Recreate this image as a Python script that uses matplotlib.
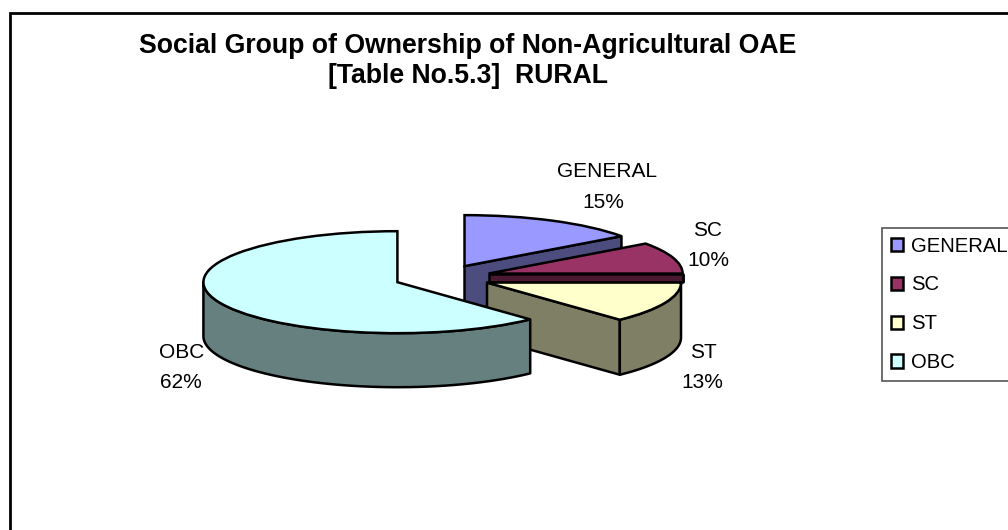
import numpy as np
import matplotlib
matplotlib.use("Agg")
import matplotlib.pyplot as plt
from matplotlib.patches import Patch, Rectangle

plt.rcParams['font.family'] = ['Liberation Sans', 'DejaVu Sans']

groups = ["GENERAL", "SC", "ST", "OBC"]
shares = [15, 10, 13, 62]
title_text = "Social Group of Ownership of Non-Agricultural OAE\n[Table No.5.3]  RURAL"

top_colors = ["#9999FF", "#993366", "#FFFFCC", "#CCFFFF"]
side_colors = ["#4C4C7F", "#4C1933", "#7F7F66", "#667F7F"]

W, H = 1008, 530
# pie centre and radii in pixels, the pie is squashed to look 3D
CX, CY = 442.5, 277.5
RX, RY = 194, 51
# SC only shows a thin band above ST, the rest is hidden behind it
side_depth = [54, 8, 55, 54]
LW = 1.8

# pixels of the two label lines, per group
label_pos = [(607, 172, 603, 202), (708, 230, 708, 260), (703, 352, 702, 382), (182, 352, 181, 382)]


def fx(x):
    return x / W


def fy(y):
    return 1 - y / H


def drawSides(ax, wedge, color, depth, z):
    cx, cy = wedge.center
    r = wedge.r
    d = depth / RY
    # only the cut faces turned to the viewer
    for th, sign in [(wedge.theta1, 1), (wedge.theta2, -1)]:
        if sign * np.cos(np.radians(th)) > 1e-6:
            ex = cx + r * np.cos(np.radians(th))
            ey = cy + r * np.sin(np.radians(th))
            ax.fill([cx, ex, ex, cx], [cy, ey, ey - d, cy - d],
                    facecolor=color, edgecolor="black", lw=LW, zorder=z, joinstyle="round")
    start = max(wedge.theta1, -180)
    end = min(wedge.theta2, 0)
    if end > start:
        t = np.radians(np.linspace(start, end, 80))
        xs = cx + r * np.cos(t)
        ys = cy + r * np.sin(t)
        ax.fill(np.r_[xs, xs[::-1]], np.r_[ys, ys[::-1] - d],
                facecolor=color, edgecolor="black", lw=LW, zorder=z, joinstyle="round")


fig = plt.figure(figsize=(W / 100, H / 100), dpi=100)
ax = fig.add_axes([0, 0, 1, 1])

wedges, _ = ax.pie(shares, explode=[0.25] * 4, startangle=90, counterclock=False,
                   colors=top_colors, wedgeprops={"edgecolor": "black", "linewidth": LW})
ax.set_aspect("auto")
ax.set_xlim(-CX / RX, (W - CX) / RX)
ax.set_ylim((CY - H) / RY, CY / RY)

for i, w in enumerate(wedges):
    drawSides(ax, w, side_colors[i], side_depth[i], 2 * i + 1)
    w.set_zorder(2 * i + 2)

# chart border, it runs off the right and bottom of the picture
fig.add_artist(Rectangle((fx(9.5), fy(12.5) - 2), 2, 2, transform=fig.transFigure,
                         fill=False, edgecolor="black", lw=2))

fig.text(fx(468), fy(61), title_text, ha="center", va="center", fontsize=19.2,
         fontweight="bold", linespacing=1.2)

for g, v, p in zip(groups, shares, label_pos):
    fig.text(fx(p[0]), fy(p[1]), g, ha="center", va="center", fontsize=15)
    fig.text(fx(p[2]), fy(p[3]), f"{v}%", ha="center", va="center", fontsize=15)

handles = [Patch(facecolor=c, edgecolor="black", lw=LW) for c in top_colors]
leg = ax.legend(handles, groups, loc="upper left", bbox_to_anchor=(fx(882), fy(228)),
                bbox_transform=fig.transFigure, fontsize=14.6, frameon=True, fancybox=False,
                framealpha=1, edgecolor="#555555", handlelength=0.62, handleheight=0.62,
                handletextpad=0.4, labelspacing=0.98, borderaxespad=0, borderpad=0.42)
leg.get_frame().set_linewidth(1.2)
leg.set_zorder(20)

fig.savefig("out.png", dpi=100)
